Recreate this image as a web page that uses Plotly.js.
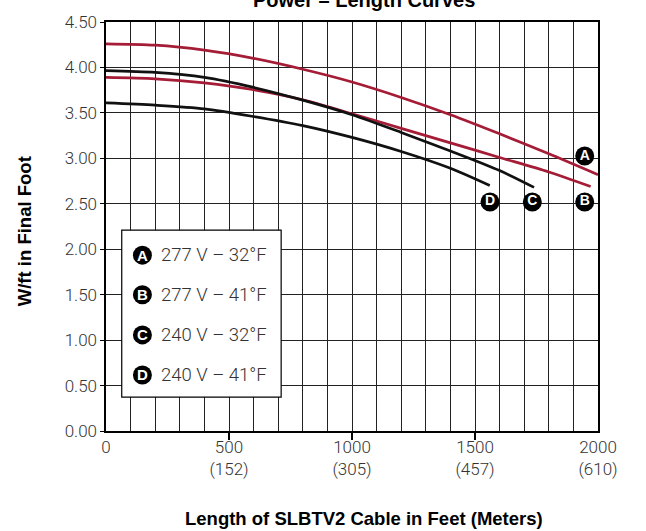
<!DOCTYPE html>
<html>
<head>
<meta charset="utf-8">
<script src="https://cdn.plot.ly/plotly-3.0.1.min.js"></script>
<style>html,body{margin:0;padding:0;background:#fff;}#chart{width:646px;height:531px;}</style>
</head>
<body>
<div id="chart"></div>
<script>
// Cable length (ft) and W/ft in final foot for each curve
const lenA = [0, 200, 400, 600, 800, 1000, 1200, 1400, 1600, 1800, 2000];
const wA   = [4.26, 4.245, 4.19, 4.10, 3.98, 3.84, 3.67, 3.48, 3.27, 3.05, 2.82];
const lenB = [0, 200, 400, 600, 800, 1000, 1200, 1400, 1600, 1800, 1970];
const wB   = [3.89, 3.875, 3.83, 3.755, 3.645, 3.49, 3.33, 3.17, 3.01, 2.85, 2.69];
const lenC = [0, 200, 400, 600, 800, 1000, 1200, 1400, 1600, 1740];
const wC   = [3.965, 3.945, 3.89, 3.78, 3.64, 3.48, 3.285, 3.08, 2.865, 2.68];
const lenD = [0, 200, 400, 600, 800, 1000, 1200, 1400, 1560];
const wD   = [3.61, 3.585, 3.545, 3.46, 3.36, 3.23, 3.075, 2.89, 2.70];

const curveLetters = ['A', 'B', 'C', 'D'];
const curveNames = ['277 V – 32°F', '277 V – 41°F', '240 V – 32°F', '240 V – 41°F'];
// Letter marker positions on the plot
const markX = [1946, 1946, 1733, 1561];
const markY = [3.025, 2.52, 2.52, 2.52];

const xTickVals = [0, 500, 1000, 1500, 2000];
const xTickFeet = ['0', '500', '1000', '1500', '2000'];
const xTickMeters = ['', '(152)', '(305)', '(457)', '(610)'];

const RED = '#A51C36';
const BLK = '#111111';
const LIGHT = 'Roboto, "Noto Sans", sans-serif';
const BOLD = '"Liberation Sans", Arial, sans-serif';

function line(x, y, color) {
  return {x: x, y: y, type: 'scatter', mode: 'lines',
    line: {color: color, width: 2.7, shape: 'spline', smoothing: 0.8},
    hoverinfo: 'skip', showlegend: false};
}

const traces = [
  line(lenA, wA, RED),
  line(lenB, wB, RED),
  line(lenD, wD, BLK),
  line(lenC, wC, BLK),
  {x: markX, y: markY, type: 'scatter', mode: 'markers+text', text: curveLetters,
   textposition: 'middle center',
   textfont: {color: '#ffffff', size: 14, family: BOLD, weight: 'bold'},
   marker: {size: 19, color: '#000000'}, cliponaxis: false, showlegend: false, hoverinfo: 'skip'},
  {x: [0, 2000], y: [0, 0], xaxis: 'x2', type: 'scatter', mode: 'none', showlegend: false, hoverinfo: 'skip'}
];

const shapes = [];
const annotations = [];
// legend box
shapes.push({type: 'rect', xref: 'paper', yref: 'paper', x0: 0.032, x1: 0.356, y0: 0.083, y1: 0.491,
  fillcolor: '#ffffff', line: {color: '#000000', width: 1.2}, layer: 'above'});
const legY = [0.430, 0.333, 0.235, 0.137];
curveLetters.forEach(function (L, i) {
  shapes.push({type: 'circle', xref: 'paper', yref: 'paper', xsizemode: 'pixel', ysizemode: 'pixel',
    xanchor: 0.074, yanchor: legY[i], x0: -9.5, x1: 9.5, y0: -9.5, y1: 9.5,
    fillcolor: '#000000', line: {width: 0}, layer: 'above'});
  annotations.push({xref: 'paper', yref: 'paper', x: 0.074, y: legY[i], text: '<b>' + L + '</b>',
    showarrow: false, xanchor: 'center', yanchor: 'middle',
    font: {color: '#ffffff', size: 15, family: BOLD}});
  annotations.push({xref: 'paper', yref: 'paper', x: 0.108, y: legY[i], text: curveNames[i],
    showarrow: false, xanchor: 'left', yanchor: 'middle',
    font: {color: '#333333', size: 18.5, family: LIGHT, weight: 300}});
});
// chart title (partly cut at top)
annotations.push({xref: 'paper', yref: 'paper', x: 0.524, y: 1.054, text: '<b>Power – Length Curves</b>',
  showarrow: false, xanchor: 'center', yanchor: 'middle', font: {color: '#000', size: 20, family: BOLD}});
// axis titles
annotations.push({xref: 'paper', yref: 'paper', x: 0.524, y: -0.215, text: '<b>Length of SLBTV2 Cable in Feet (Meters)</b>',
  showarrow: false, xanchor: 'center', yanchor: 'middle', font: {color: '#000', size: 18.5, family: BOLD}});
annotations.push({xref: 'paper', yref: 'paper', x: -0.165, y: 0.488, text: '<b>W/ft in Final Foot</b>', textangle: -90,
  showarrow: false, xanchor: 'center', yanchor: 'middle', font: {color: '#000', size: 18.5, family: BOLD}});

const ticktext = xTickFeet.map(function (f, i) { return xTickMeters[i] ? f + '<br>' + xTickMeters[i] : f + '<br> '; });

const layout = {
  width: 646, height: 531,
  margin: {l: 106, r: 48, t: 22, b: 100},
  paper_bgcolor: '#ffffff', plot_bgcolor: '#ffffff',
  showlegend: false,
  xaxis: {
    range: [0, 2000], tickvals: xTickVals, ticktext: ticktext, ticks: '',
    showgrid: true, gridcolor: '#222222', gridwidth: 1,
    minor: {dtick: 100, showgrid: true, gridcolor: '#222222', gridwidth: 1, ticks: ''},
    showline: true, linecolor: '#000', linewidth: 1.6, mirror: true,
    zeroline: false, tickfont: {family: LIGHT, size: 17, color: '#333', weight: 300}
  },
  xaxis2: {
    range: [0, 2000], overlaying: 'x', anchor: 'y', side: 'bottom',
    tickvals: [500, 1000, 1500], ticks: 'outside', ticklen: 8, tickwidth: 1.2, tickcolor: '#000',
    showticklabels: false, showgrid: false, zeroline: false, showline: false
  },
  yaxis: {
    range: [0, 4.5], dtick: 0.5, tickformat: '.2f', ticks: 'outside', ticklen: 4, tickcolor: '#000',
    showgrid: true, gridcolor: '#222222', gridwidth: 1,
    showline: true, linecolor: '#000', linewidth: 1.6, mirror: true, zeroline: false,
    tickfont: {family: LIGHT, size: 17, color: '#333', weight: 300}
  },
  shapes: shapes,
  annotations: annotations
};

Plotly.newPlot('chart', traces, layout, {staticPlot: true, displayModeBar: false});
</script>
</body>
</html>
